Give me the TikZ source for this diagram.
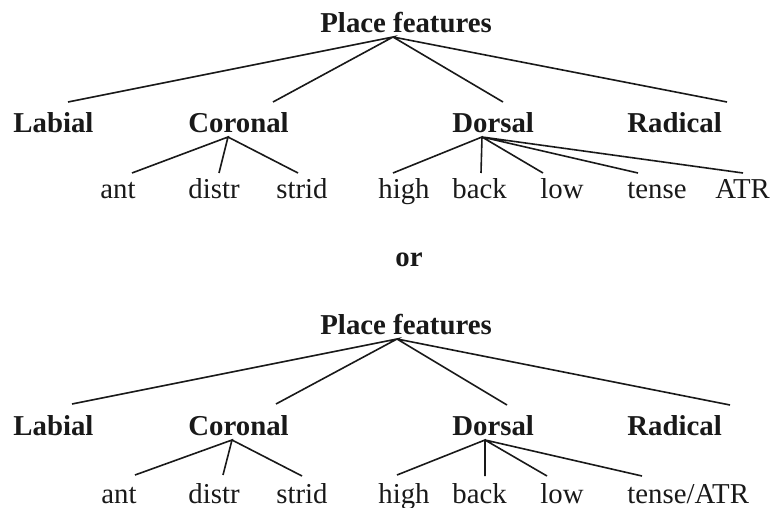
\documentclass[tikz,border=0pt]{standalone}
\usepackage{fontspec}
\setmainfont{Liberation Serif}
\begin{document}
\begin{tikzpicture}[x=0.5pt,y=-0.5pt,
  lbl/.style={inner sep=0pt,anchor=base west,text=black!90,font=\fontsize{14.4}{17}\selectfont},
  blbl/.style={lbl,font=\fontsize{14.4}{17}\selectfont\bfseries},
  branch/.style={line width=0.8pt,draw=black!90}]
\useasboundingbox (0,0) rectangle (778,508);
% ---------- top tree ----------
\node[blbl] (pfA) at (320,33) {Place features};
\node[blbl] (labA) at (13,133) {Labial};
\node[blbl] (corA) at (188,133) {Coronal};
\node[blbl] (dorA) at (452,133) {Dorsal};
\node[blbl] (radA) at (627,133) {Radical};
\node[lbl] (antA) at (100,199) {ant};
\node[lbl] (disA) at (188,199) {distr};
\node[lbl] (strA) at (276,199) {strid};
\node[lbl] (higA) at (378,199) {high};
\node[lbl] (bacA) at (452,199) {back};
\node[lbl] (lowA) at (540,199) {low};
\node[lbl] (tenA) at (627,199) {tense};
\node[lbl] (atrA) at (715,199) {ATR};
\coordinate (pfAt) at (393,37);
\coordinate (labAt) at (68,102);
\coordinate (corAt) at (273,102);
\coordinate (dorAt) at (503,102);
\coordinate (radAt) at (727,102);
\coordinate (corAb) at (228,137);
\coordinate (dorAb) at (482,137);
\coordinate (antAt) at (132,173);
\coordinate (disAt) at (219,173);
\coordinate (strAt) at (298,173);
\coordinate (higAt) at (393,173);
\coordinate (bacAt) at (481,173);
\coordinate (lowAt) at (543,173);
\coordinate (tenAt) at (638,173);
\coordinate (atrAt) at (743,173);
\draw[branch] (labAt) -- (pfAt) -- (corAt) (pfAt) -- (dorAt) (pfAt) -- (radAt);
\draw[branch] (antAt) -- (corAb) -- (disAt) (corAb) -- (strAt);
\draw[branch] (higAt) -- (dorAb) -- (bacAt) (dorAb) -- (lowAt) (dorAb) -- (tenAt) (dorAb) -- (atrAt);
% ---------- or ----------
\node[blbl] (or) at (395,267) {or};
% ---------- bottom tree ----------
\node[blbl] (pfB) at (320,335) {Place features};
\node[blbl] (labB) at (13,436) {Labial};
\node[blbl] (corB) at (188,436) {Coronal};
\node[blbl] (dorB) at (452,436) {Dorsal};
\node[blbl] (radB) at (627,436) {Radical};
\node[lbl] (antB) at (101,503) {ant};
\node[lbl] (disB) at (188,503) {distr};
\node[lbl] (strB) at (276,503) {strid};
\node[lbl] (higB) at (378,503) {high};
\node[lbl] (bacB) at (452,503) {back};
\node[lbl] (lowB) at (540,503) {low};
\node[lbl] (tenB) at (627,503) {tense/ATR};
\coordinate (pfBt) at (397,339);
\coordinate (labBt) at (72,404);
\coordinate (corBt) at (276,404);
\coordinate (dorBt) at (507,405);
\coordinate (radBt) at (730,405);
\coordinate (corBb) at (232,440);
\coordinate (dorBb) at (485,440);
\coordinate (antBt) at (135,475);
\coordinate (disBt) at (223,475);
\coordinate (strBt) at (302,476);
\coordinate (higBt) at (397,475);
\coordinate (bacBt) at (485,476);
\coordinate (lowBt) at (547,476);
\coordinate (tenBt) at (642,476);
\draw[branch] (labBt) -- (pfBt) -- (corBt) (pfBt) -- (dorBt) (pfBt) -- (radBt);
\draw[branch] (antBt) -- (corBb) -- (disBt) (corBb) -- (strBt);
\draw[branch] (higBt) -- (dorBb) -- (bacBt) (dorBb) -- (lowBt) (dorBb) -- (tenBt);
\end{tikzpicture}
\end{document}
